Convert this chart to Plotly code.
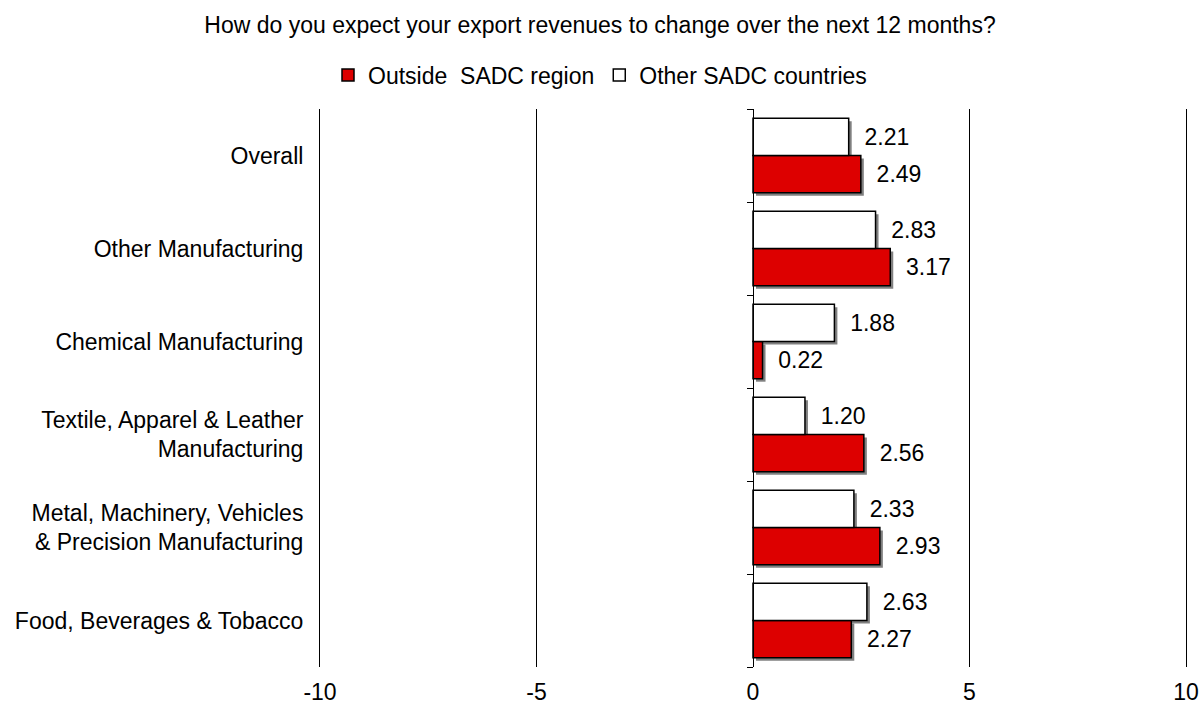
import plotly.graph_objects as go

# ---------------- data ----------------
categories = [
    "Food, Beverages & Tobacco",
    "Metal, Machinery, Vehicles<br>& Precision Manufacturing",
    "Textile, Apparel & Leather<br>Manufacturing",
    "Chemical Manufacturing",
    "Other Manufacturing",
    "Overall",
]
outside_sadc = [2.27, 2.93, 2.56, 0.22, 3.17, 2.49]
other_sadc = [2.63, 2.33, 1.20, 1.88, 2.83, 2.21]
x_tick_vals = [-10, -5, 0, 5, 10]
x_tick_text = ["-10", "-5", "0", "5", "10"]
series_names = ["Outside\u00a0 SADC region", "Other SADC countries"]
title_text = "How do you expect your export revenues to change over the next 12 months?"

# ---------------- style ----------------
W, H = 1200, 708
ML, MR, MT, MB = 320, 14, 109, 41
X_MIN, X_MAX = -10, 10
FONT = "Liberation Sans, Arial, sans-serif"
FS = 23
RED = "#DD0000"
SHADOW = "#808080"
BAR_W = 0.4
plot_w = W - ML - MR
plot_h = H - MT - MB
n_cat = len(categories)
dx = 3 * (X_MAX - X_MIN) / plot_w          # 3px shadow offset in x units
dy = 3 * n_cat / plot_h                     # 3px shadow offset in category units

fig = go.Figure()

# shadows (drawn first, on base y axis)
for vals, off in [(outside_sadc, -BAR_W), (other_sadc, 0.0)]:
    fig.add_trace(go.Bar(
        y=categories, x=vals, base=dx, orientation="h",
        width=BAR_W, offset=off - dy,
        marker=dict(color=SHADOW, line=dict(width=0)),
        showlegend=False, hoverinfo="skip", yaxis="y", xaxis="x",
    ))

# main bars (on overlaying y2 axis so they sit on top)
for vals, off, col, name in [(outside_sadc, -BAR_W, RED, series_names[0]),
                             (other_sadc, 0.0, "white", series_names[1])]:
    fig.add_trace(go.Bar(
        y=categories, x=vals, orientation="h", name=name,
        width=BAR_W, offset=off,
        marker=dict(color=col, line=dict(color="black", width=1.5)),
        texttemplate="\u00a0\u00a0%{x:.2f}", textposition="outside",
        constraintext="none", cliponaxis=False,
        textfont=dict(family=FONT, size=FS, color="black"),
        yaxis="y2", xaxis="x",
    ))

fig.update_layout(
    width=W, height=H,
    margin=dict(l=ML, r=MR, t=MT, b=MB, pad=0, autoexpand=False),
    paper_bgcolor="white", plot_bgcolor="rgba(0,0,0,0)",
    barmode="overlay",
    font=dict(family=FONT, size=FS, color="black"),
    title=dict(text=title_text, x=0.5, xanchor="center", xref="container",
               y=1 - 25 / H, yanchor="middle", yref="container",
               font=dict(family=FONT, size=FS, color="black")),
    legend=dict(orientation="h", x=0.5, xanchor="center", xref="container",
                y=1 - 75 / H, yanchor="middle", yref="container",
                font=dict(family=FONT, size=FS, color="black"),
                traceorder="normal", itemwidth=30),
    xaxis=dict(range=[X_MIN, X_MAX], tickvals=x_tick_vals, ticktext=x_tick_text,
               showgrid=True, gridcolor="black", gridwidth=1,
               zeroline=False, showline=False, ticks="",
               ticklabelstandoff=9, automargin=False,
               tickfont=dict(family=FONT, size=FS, color="black")),
    yaxis=dict(type="category", categoryorder="array", categoryarray=categories,
               range=[-0.5, n_cat - 0.5], showgrid=False, zeroline=False,
               showline=True, mirror=True, linecolor="black", linewidth=1,
               ticks="", ticklabelstandoff=11, automargin=False,
               tickfont=dict(family=FONT, size=FS, color="black")),
    yaxis2=dict(type="category", categoryorder="array", categoryarray=categories,
                range=[-0.5, n_cat - 0.5], overlaying="y", anchor="free",
                position=(0 - X_MIN) / (X_MAX - X_MIN), side="left",
                showgrid=False, zeroline=False, showticklabels=False,
                showline=True, linecolor="black", linewidth=1,
                ticks="outside", tickson="boundaries", ticklen=6,
                tickcolor="black", tickwidth=1, automargin=False),
)

fig.write_html("out.html")
